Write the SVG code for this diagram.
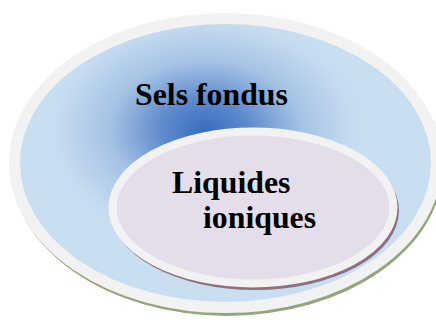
<svg xmlns="http://www.w3.org/2000/svg" width="436" height="320" viewBox="0 0 436 320">
<style>
.lbl{font-family:"Liberation Serif","Times New Roman",serif;font-weight:bold;font-size:31.8px;fill:#000}
.rim{stroke:#f2f2f2}
</style>
<defs>
<radialGradient id="blue" gradientUnits="userSpaceOnUse" cx="205" cy="130" r="175" gradientTransform="translate(205 130) scale(1 0.72) translate(-205 -130)">
<stop offset="0" stop-color="#3a6cc0"/>
<stop offset="0.25" stop-color="#5f8bcc"/>
<stop offset="0.55" stop-color="#a6c3e5"/>
<stop offset="0.85" stop-color="#c6dcf0"/>
<stop offset="1" stop-color="#c9dff1"/>
</radialGradient>
</defs>
<rect width="436" height="320" fill="#fff"/>
<g id="sels-fondus">
<ellipse cx="227" cy="166" rx="216" ry="150" fill="#93a57a"/>
<ellipse cx="225.5" cy="163" rx="211" ry="144.5" fill="url(#blue)" class="rim" stroke-width="11"/>
<text class="lbl" x="135" y="105">Sels fondus</text>
</g>
<g id="liquides-ioniques">
<ellipse cx="255" cy="210.5" rx="144" ry="79.5" fill="#8d6f80"/>
<ellipse cx="253" cy="207.5" rx="140.5" ry="76" fill="#e4deea" class="rim" stroke-width="8"/>
<text class="lbl" x="172" y="193">Liquides</text>
<text class="lbl" x="203" y="228">ioniques</text>
</g>
<g id="connectors"/>
</svg>
